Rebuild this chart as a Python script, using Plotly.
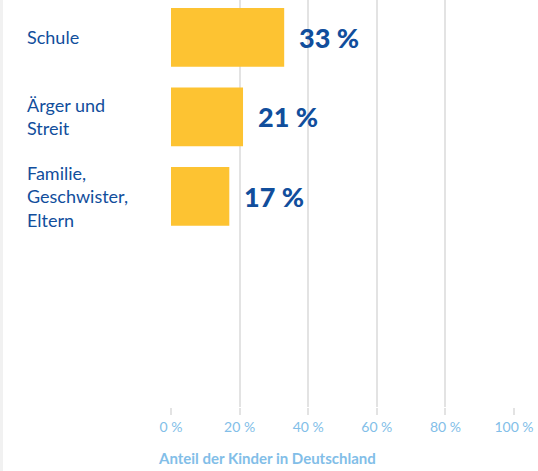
import plotly.graph_objects as go

categories = ["Schule", "Ärger und<br>Streit", "Familie,<br>Geschwister,<br>Eltern"]
values = [33, 21, 17]
value_labels = ["33 %", "21 %", "17 %"]
tick_vals = [0, 20, 40, 60, 80, 100]
tick_text = ["0 %", "20 %", "40 %", "60 %", "80 %", "100 %"]
axis_title = "Anteil der Kinder in Deutschland"

FONT = "Lato, Carlito, Calibri, sans-serif"
DARK = "#114E9C"
LIGHT = "#82BEE8"
BAR = "#FDC332"
GRID = "#E3E3E3"

fig = go.Figure()
fig.add_trace(go.Bar(
    x=values, y=categories, orientation="h",
    marker=dict(color=BAR, line=dict(width=0)),
    width=0.74, hoverinfo="skip", showlegend=False,
))

annotations = []
for cat, v, lab in zip(categories, values, value_labels):
    annotations.append(dict(
        x=v, y=cat, xref="x", yref="y", text=lab, showarrow=False,
        xanchor="left", yanchor="middle", xshift=13,
        font=dict(family=FONT, size=27, color=DARK, weight=900),
    ))
    annotations.append(dict(
        x=0, y=cat, xref="paper", yref="y", text=cat, showarrow=False,
        xanchor="left", yanchor="middle", align="left", xshift=-146,
        font=dict(family=FONT, size=18, color=DARK),
    ))
annotations.append(dict(
    x=0, y=0, xref="paper", yref="paper", yshift=-62, text="<b>" + axis_title + "</b>",
    showarrow=False, xanchor="left", yanchor="bottom", xshift=-15,
    font=dict(family=FONT, size=15, color=LIGHT),
))

fig.update_layout(
    width=538, height=471,
    margin=dict(l=171, r=24, t=0, b=64),
    paper_bgcolor="white", plot_bgcolor="white",
    xaxis=dict(
        range=[0, 100], tickvals=tick_vals, ticktext=tick_text,
        showgrid=True, gridcolor=GRID, gridwidth=2,
        zeroline=False, showline=False,
        ticks="outside", ticklen=7, tickcolor=GRID, tickwidth=2,
        tickfont=dict(family=FONT, size=14, color=LIGHT),
        fixedrange=True,
    ),
    yaxis=dict(
        range=[4.65, -0.47], showticklabels=False, showgrid=False,
        zeroline=False, showline=False, ticks="", fixedrange=True,
    ),
    annotations=annotations,
    shapes=[dict(type="line", xref="paper", yref="paper",
                 x0=-0.494, x1=-0.494, y0=-0.16, y1=1.0,
                 line=dict(color="#F1F1F1", width=3))],
)

fig.write_html(
    "out.html",
    config={"displayModeBar": False},
    post_script="document.body.style.margin='0';document.body.style.overflow='hidden';",
)
